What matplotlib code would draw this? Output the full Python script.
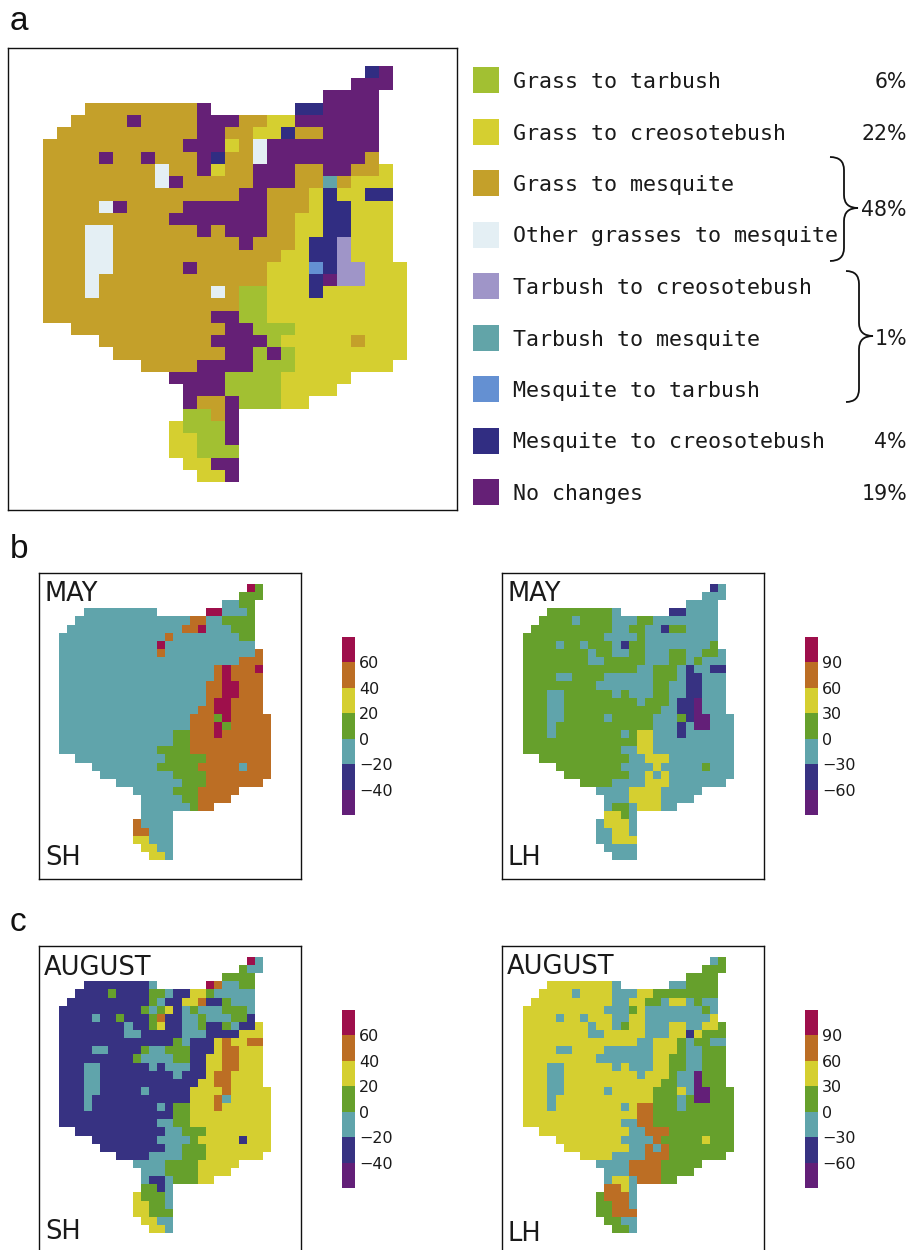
import re
import numpy as np
import matplotlib
matplotlib.use("Agg")
import matplotlib.pyplot as plt
from matplotlib.colors import ListedColormap, BoundaryNorm
from matplotlib.path import Path
from matplotlib.patches import PathPatch, Rectangle

W, H = 912, 1250

# ---------- data ----------
legend_labels = ["Grass to tarbush", "Grass to creosotebush", "Grass to mesquite",
                 "Other grasses to mesquite", "Tarbush to creosotebush", "Tarbush to mesquite",
                 "Mesquite to tarbush", "Mesquite to creosotebush", "No changes"]
legend_codes = list("gyMoltbNP")
legend_colors = ["#A2C032", "#D5CF30", "#C4A02A", "#E4EFF4", "#9F95C8",
                 "#62A4A8", "#6490D2", "#312D82", "#652076"]
legend_pct = ["6%", "22%", None, None, None, None, None, "4%", "19%"]
group_pct = ["48%", "1%"]

change_codes = list("PNTGYOR")
change_colors = ["#631F78", "#373282", "#60A4AB", "#66A02C", "#D5CF30", "#BC6E24", "#9E0F4B"]
sh_bounds = [-60, -40, -20, 0, 20, 40, 60, 80]
lh_bounds = [-90, -60, -30, 0, 30, 60, 90, 120]
sh_ticks = [-40, -20, 0, 20, 40, 60]
lh_ticks = [-60, -30, 0, 30, 60, 90]

# grids: run-length coded rows ("3M" = three cells of class M, "." = outside the map)
veg_rows = """23. N P
22. 3P
20. 4P
3. 8M P 6. 2N 4P
2. 4M P 4M 3P 2M 2y 6P
1. 10M 2P 2M 2y N 2M 4P
10M 3P y M o 8P
4M P 2M P 3M P N 2M o 7P M
8M o 2M P y 2M 3P 2M 2P 2M y
8M o P 5M 3P 2M t M 3y
14M 2P 3M y N 2y 2N
4M o P 4M 6P 3M y 2N 3y
9M 7P 2M 2y 2N 3y
3M 2o 6M P M 3P 2M 2y 2N 3y
3M 2o 9M P 3M y 2N l 3y
3M 2o 12M 2y 2N l 3y
3M 2o 5M P 5M 3y b N 2l 3y
3M o 12M 3y N P 2l 3y
3M o 8M o M 2g 3y N 6y
14M 2g 10y
12M 2P 2g 10y
2. 11M 2P 3g 8y
4. 8M 4P g 5y M 3y
5. 8M 2P g P g 8y
7. 4M 4P 3g 7y
9. 4P 4g 5y
10. 3P 4g 4y
10. P 2M P 3g 2y
10. 2g M P
9. y 3g P
9. 2y 2g P
9. 2y 3g
10. 2y 2P
11. 2y P"""

may_sh_rows = """23. R G
22. 3G
20. 2T 2G
3. 9T 6. 2R 3T G
2. 14T 2O 2T 4G
1. 14T 2O R 3T 3G
13T O 8T 2G
12T R 11T
12T O 11T O
22T 3O
19T O R 3O R
19T O R 4O
18T 2O 2R 3O
18T 2O 2R 3O
18T O 2R 4O
17T 2O 2R 4O
16T 3O G R 5O
16T 3O R G 5O
14T 2G 3O R 6O
14T 2G 10O
12T 4G 10O
2. 11T 5G 8O
4. 8T 5G 5O T 3O
5. 9T 4G 8O
7. 8T 3G 7O
9. 5T 3G 5O
10. 5T 2G 4O
10. 6T G 2O
10. 4T
9. O 4T
9. 2O 3T
9. 2Y 3T
10. 2Y 2T
11. 2Y T"""

may_lh_rows = """23. N T
22. 3T
20. 4T
3. 8G T 6. 2N 4T
2. 4G T 4G 3T 2G 8T
1. 10G 2T 2G 2T N 2G 4T
10G 4T G 9T
4G T 2G T 3G T N 2G 8T G
8G T 2G 2T 2G 3T 2G 2T 2G T
8G 2T 5G 3T 2G T G 3T
14G 2T 3G T N 2T 2N
4G 2T 4G 6T 3G T 2N 3T
9G 7T 2G 2T 2N 3T
3G 2T 6G T G 3T 2G 2T 2N 3T
3G 2T 9G T 3G T 2N P 3T
3G 2T 12G 2T 2N P 3T
3G 2T 5G T 5G 3T G N 2P 3T
3G T 12G 3T N T 2P 3T
3G T 8G T G 2Y 3T N 6T
14G 2Y 10T
12G 2T 2Y 10T
2. 11G 2T 3Y 8T
4. 8G 4T Y 5T G 3T
5. 8G 2T Y T Y 8T
7. 4G 4T 3Y 7T
9. 4T 4Y 5T
10. 3T 4Y 4T
10. T 2G T 3Y 2T
10. 2Y G T
9. T 3Y T
9. 2T 2Y T
9. 2T 3Y
10. 4T
11. 3T"""

aug_sh_rows = """23. R T
22. G 2T
20. 4G
3. 8N T 6. R O 2T 2G
2. 4N G 4N 2G T 2N 2Y G 5T
1. 10N G T 2N 2Y O 2N G 3T
10N G T G Y N T G 3T 3G T
4N T 2N G 3N G O 2N 2T G 3T 2G N
8N T 2N G Y 2N 2T G 2N G T 2N Y
8N 2T 5N 3T 4N 3Y
14N G T 3N Y O 2Y 2O
4N 2T 4N G 2T 3G 3N Y 2O 3Y
9N G 4T 2G 2N 2Y 2O 3Y
3N 2T 6N T N 3T 2N 2Y 2O 3Y
3N 2T 9N T 3N Y 2O 4Y
3N 2T 12N 2Y 2O 4Y
3N 2T 5N T 5N 4Y O 5Y
3N T 12N 3Y O T 5Y
3N T 8N T N 2G 3Y O 6Y
14N 2G 10Y
12N 2T 2G 10Y
2. 11N 2T 3G 8Y
4. 8N 4T G 5Y N 3Y
5. 8N 2T 3G 8Y
7. 4N 4T 3G 7Y
9. 4T 4G 5Y
10. 3T 4G 4Y
10. T 2N T 3G 2Y
10. 2G N T
9. Y 3G T
9. 2Y 2G T
9. 2Y 3G
10. 2Y 2T
11. 2Y T"""

aug_lh_rows = """23. T G
22. 3G
20. 4G
3. 8Y T 6. 2T 4G
2. 4Y T 4Y 3T 2Y 8G
1. 10Y 2T 2Y 2G T 2Y T G 2T
10Y 3T G Y 7T G T
4Y T 2Y T 3Y 2T 2Y 8T Y
8Y T 2Y T G 2Y 3T 2Y 2T 2Y G
8Y 2T 5Y 3T 2Y N Y 3G
14Y 2T 3Y G T 2G 2T
4Y 2T 4Y 6T 3Y G 2T 3G
9Y 7T 2Y 2G 2T 3G
3Y 2T 6Y T Y 3T 2Y 2G 2T 3G
3Y 2T 9Y T 3Y G 2T P 3G
3Y 2T 12Y 2G 2T P 3G
3Y 2T 5Y T 5Y 3G Y T 2P 3G
3Y T 12Y 3G T G 2P 3G
3Y T 8Y T Y 2O 3G T 6G
14Y 2O 10G
12Y 2T 2O 10G
2. 11Y 2T 3O 8G
4. 8Y 4T O 5G Y 3G
5. 8Y 2T O T O 8G
7. 4Y 4T 3O 7G
9. 4T 4O 5G
10. 3T 4O 4G
10. T 2Y T 3O 2G
10. 2O Y T
9. G 3O T
9. 2G 2O T
9. 2G 3O
10. 2G 2T
11. 2G T"""

# ---------- helpers ----------
NCOL, NROW = 26, 34
plt.rcParams["font.family"] = ["DejaVu Sans"]
INK = "#1a1a1a"
MONO = "DejaVu Sans Mono"


def decode(text, codes):
    """Turn run-length rows into a masked integer grid."""
    grid = np.full((NROW, NCOL), -1, dtype=int)
    for r, line in enumerate(text.splitlines()):
        c = 0
        for tok in line.split():
            m = re.fullmatch(r"(\d*)(.)", tok)
            n = int(m.group(1) or 1)
            if m.group(2) != ".":
                grid[r, c:c + n] = codes.index(m.group(2))
            c += n
    return np.ma.masked_less(grid, 0)


def px_axes(fig, x0, y0, x1, y1):
    return fig.add_axes([x0 / W, 1 - y1 / H, (x1 - x0) / W, (y1 - y0) / H])


def map_panel(fig, box, origin, step, grid, colors):
    x0, y0, x1, y1 = box
    ox, oy = origin
    sx, sy = step
    ax = px_axes(fig, x0, y0, x1, y1)
    cmap = ListedColormap(colors)
    ax.pcolormesh(np.arange(NCOL + 1), np.arange(NROW + 1), grid, cmap=cmap,
                  vmin=-0.5, vmax=len(colors) - 0.5, antialiased=False, linewidth=0)
    ax.set_xlim((x0 - ox) / sx, (x1 - ox) / sx)
    ax.set_ylim((y1 - oy) / sy, (y0 - oy) / sy)
    ax.set_xticks([])
    ax.set_yticks([])
    for s in ax.spines.values():
        s.set_linewidth(1.0)
        s.set_color("#111111")
    return ax


def colorbar(fig, x0, y0, x1, y1, bounds, ticks):
    ax = px_axes(fig, x0, y0, x1, y1)
    cmap = ListedColormap(change_colors)
    norm = BoundaryNorm(bounds, cmap.N)
    vals = (np.array(bounds[:-1]) + np.array(bounds[1:])) / 2
    ax.pcolormesh([0, 1], bounds, vals[:, None], cmap=cmap, norm=norm,
                  antialiased=False, linewidth=0)
    ax.set_xticks([])
    ax.yaxis.tick_right()
    ax.set_yticks(ticks)
    ax.set_yticklabels([str(t).replace("-", "\u2212") for t in ticks], fontsize=11.5, color=INK)
    ax.tick_params(axis="y", length=0, pad=3)
    for s in ax.spines.values():
        s.set_visible(False)


fig = plt.figure(figsize=(W / 100, H / 100), dpi=100, facecolor="white")

# panel a
map_panel(fig, (8, 48, 457, 510), (43, 66), (14.0, 12.235),
          decode(veg_rows, legend_codes), legend_colors)

# panels b and c
sh_step = (8.17, 8.117)
lh_step = (8.13, 8.117)
map_panel(fig, (39, 573, 301, 879), (59, 584), sh_step, decode(may_sh_rows, change_codes), change_colors)
map_panel(fig, (502, 573, 764, 879), (523, 584), lh_step, decode(may_lh_rows, change_codes), change_colors)
map_panel(fig, (39, 946, 301, 1254), (59, 957), sh_step, decode(aug_sh_rows, change_codes), change_colors)
map_panel(fig, (502, 946, 764, 1254), (523, 957), lh_step, decode(aug_lh_rows, change_codes), change_colors)

colorbar(fig, 342, 637, 355, 815, sh_bounds, sh_ticks)
colorbar(fig, 805, 637, 818, 815, lh_bounds, lh_ticks)
colorbar(fig, 342, 1010, 355, 1188, sh_bounds, sh_ticks)
colorbar(fig, 805, 1010, 818, 1188, lh_bounds, lh_ticks)

# overlay in pixel coordinates: legend, braces, labels
ov = fig.add_axes([0, 0, 1, 1], facecolor="none")
ov.set_xlim(0, W)
ov.set_ylim(H, 0)
ov.axis("off")

for i, (lab, col, pct) in enumerate(zip(legend_labels, legend_colors, legend_pct)):
    yc = 80 + 51.5 * i
    ov.add_patch(Rectangle((473, yc - 13), 26, 26, facecolor=col, edgecolor="none"))
    ov.text(513, yc + 8, lab, fontsize=15.6, family=MONO, color=INK, ha="left", va="baseline")
    if pct:
        ov.text(907, yc + 8, pct, fontsize=14.8, color=INK, ha="right", va="baseline")


def brace(x0, xs, xt, ytop, ytip, ybot):
    c = 13
    verts = [(x0, ytop), (xs, ytop), (xs, ytop + c), (xs, ytip - c), (xs, ytip), (xt, ytip),
             (xs, ytip), (xs, ytip + c), (xs, ybot - c), (xs, ybot), (x0, ybot)]
    codes = [Path.MOVETO, Path.CURVE3, Path.CURVE3, Path.LINETO, Path.CURVE3, Path.CURVE3,
             Path.CURVE3, Path.CURVE3, Path.LINETO, Path.CURVE3, Path.CURVE3]
    ov.add_patch(PathPatch(Path(verts, codes), facecolor="none", edgecolor="#111111", lw=1.3))


brace(830, 844, 858, 157, 208, 261)
brace(846, 859, 873, 271, 336, 402)
ov.text(907, 216, group_pct[0], fontsize=14.8, color=INK, ha="right", va="baseline")
ov.text(907, 345, group_pct[1], fontsize=14.8, color=INK, ha="right", va="baseline")

for lab, y in zip("abc", (30, 558, 931)):
    ov.text(10, y, lab, fontsize=24, family="Liberation Sans", color="#111111", ha="left", va="baseline")

for x, top, name, bot, ybot in [(45, 601, "MAY", "SH", 865), (508, 601, "MAY", "LH", 865),
                                (44, 975, "AUGUST", "SH", 1239), (507, 974, "AUGUST", "LH", 1241)]:
    ov.text(x, top, name, fontsize=18.5, color=INK, ha="left", va="baseline")
    ov.text(x + (1 if name == "AUGUST" else 0), ybot, bot, fontsize=18.5, color=INK, ha="left", va="baseline")

fig.savefig("out.png", dpi=100, facecolor="white")
